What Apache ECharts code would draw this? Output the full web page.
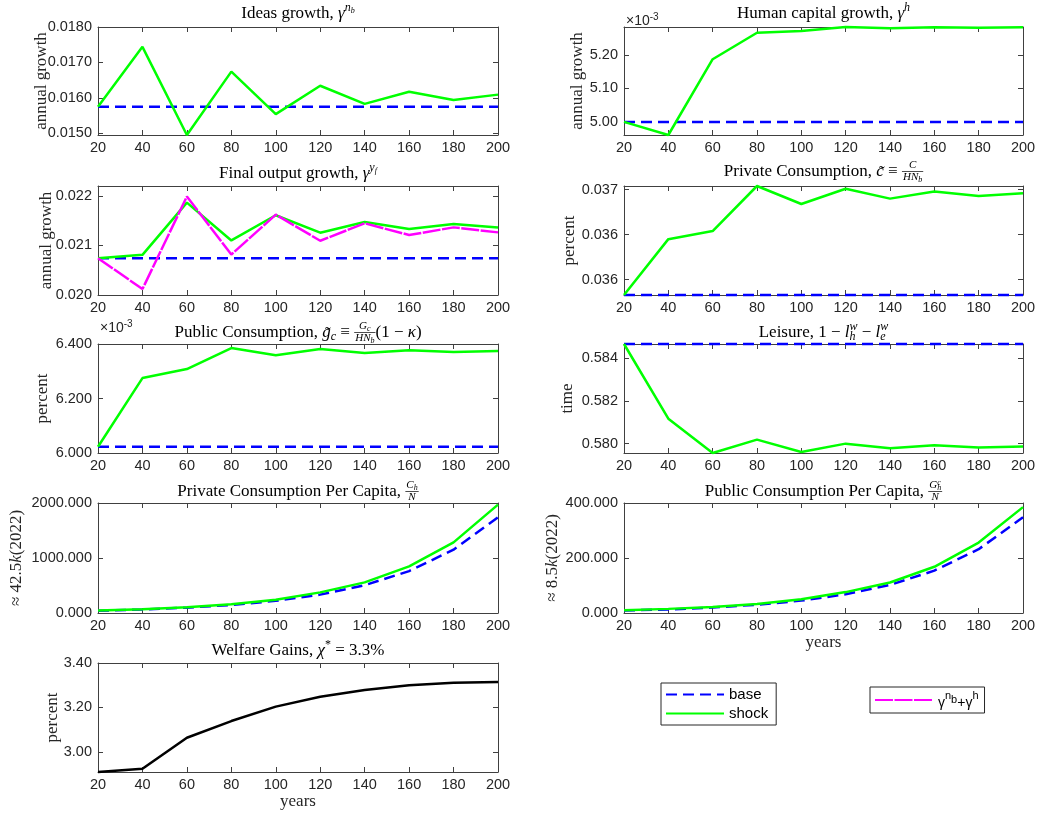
<!DOCTYPE html>
<html>
<head>
<meta charset="utf-8">
<script src="https://cdn.jsdelivr.net/npm/echarts@6/dist/echarts.min.js"></script>
<style>
  html, body { margin: 0; background: #fff; }
  #main { width: 1045px; height: 813px; }
</style>
</head>
<body>
<div id="main"></div>
<script>
// x axis: years
const years = [20, 40, 60, 80, 100, 120, 140, 160, 180, 200];

// Ideas growth
const ideasBase  = [0.01575, 0.01575, 0.01575, 0.01575, 0.01575, 0.01575, 0.01575, 0.01575, 0.01575, 0.01575];
const ideasShock = [0.01575, 0.01744, 0.01495, 0.01674, 0.01554, 0.01634, 0.01583, 0.01617, 0.01594, 0.01609];
const ideasTicks = [0.015, 0.016, 0.017, 0.018];

// Human capital growth (units of 1e-3)
const humanBase  = [5.000, 5.000, 5.000, 5.000, 5.000, 5.000, 5.000, 5.000, 5.000, 5.000];
const humanShock = [5.000, 4.961, 5.187, 5.266, 5.271, 5.283, 5.279, 5.282, 5.281, 5.282];
const humanTicks = [5.0, 5.1, 5.2];

// Final output growth
const outputBase  = [0.020743, 0.020743, 0.020743, 0.020743, 0.020743, 0.020743, 0.020743, 0.020743, 0.020743, 0.020743];
const outputShock = [0.020743, 0.020810, 0.021864, 0.021101, 0.021609, 0.021258, 0.021473, 0.021330, 0.021434, 0.021361];
const outputSum   = [0.020743, 0.020120, 0.021986, 0.020817, 0.021622, 0.021095, 0.021447, 0.021211, 0.021365, 0.021264];
const outputTicks = [0.020, 0.021, 0.022];

// Private consumption
const privBase  = [0.03583, 0.03583, 0.03583, 0.03583, 0.03583, 0.03583, 0.03583, 0.03583, 0.03583, 0.03583];
const privShock = [0.03583, 0.03645, 0.03654, 0.03704, 0.03684, 0.03701, 0.03690, 0.03698, 0.03693, 0.03696];
const privTicks = [0.0360, 0.0365, 0.0370];

// Public consumption (units of 1e-3)
const pubBase  = [6.023, 6.023, 6.023, 6.023, 6.023, 6.023, 6.023, 6.023, 6.023, 6.023];
const pubShock = [6.023, 6.275, 6.308, 6.385, 6.359, 6.382, 6.367, 6.377, 6.371, 6.374];
const pubTicks = [6.0, 6.2, 6.4];

// Leisure
const leisureBase  = [0.58468, 0.58468, 0.58468, 0.58468, 0.58468, 0.58468, 0.58468, 0.58468, 0.58468, 0.58468];
const leisureShock = [0.58468, 0.58117, 0.57956, 0.58019, 0.57961, 0.58000, 0.57978, 0.57992, 0.57982, 0.57987];
const leisureTicks = [0.580, 0.582, 0.584];

// Private consumption per capita
const privPcBase  = [42, 64, 97, 146, 221, 334, 505, 762, 1151, 1739];
const privPcShock = [47, 70, 106, 160, 242, 375, 557, 847, 1284, 1970];
const privPcTicks = [0, 1000, 2000];

// Public consumption per capita
const pubPcBase  = [9, 13, 20, 30, 45, 68, 102, 154, 232, 348];
const pubPcShock = [10, 15, 22, 33, 50, 76, 111, 168, 256, 385];
const pubPcTicks = [0, 200, 400];

// Welfare gains
const welfare = [2.910, 2.925, 3.064, 3.139, 3.204, 3.248, 3.279, 3.300, 3.311, 3.315];
const welfareTicks = [3.0, 3.2, 3.4];

const SERIF = '"Liberation Serif", "DejaVu Serif", serif';
const SANS = '"Liberation Sans", Arial, sans-serif';
const AXIS_COLOR = '#404040';
const LABEL_COLOR = '#262626';

// text pieces for the math-ish titles
const mctx = document.createElement('canvas').getContext('2d');
const fontOf = tk => (tk.it ? 'italic ' : '') + tk.size + 'px ' + SERIF;
const tw = tk => { mctx.font = fontOf(tk); return mctx.measureText(tk.t).width; };
const R = t => ({ t, size: 17, it: false, dy: 0 });
const I = t => ({ t, size: 17, it: true, dy: 0 });
const Sup = (t, it = true) => ({ t, size: 12, it, dy: -6 });
const SupSub = t => ({ t, size: 8, it: true, dy: -3 });
const Sub = t => ({ t, size: 12, it: true, dy: 4 });
const FI = t => ({ t, size: 11, it: true, dy: 0 });
const FS = t => ({ t, size: 8, it: true, dy: 2 });
const FSup = t => ({ t, size: 8, it: true, dy: -3 });
const Stack = (a, b) => ({ stack: [a, b] });
const Frac = (num, den) => ({ frac: [num, den] });

function rowWidth(toks) {
  return toks.reduce((s, t) => s + (t.stack ? Math.max(tw(t.stack[0]), tw(t.stack[1])) : tw(t)), 0);
}
function pieceWidth(p) {
  if (p.frac) return Math.max(rowWidth(p.frac[0]), rowWidth(p.frac[1])) + 2;
  if (p.stack) return Math.max(tw(p.stack[0]), tw(p.stack[1]));
  return tw(p);
}
function textEl(tk, x, y) {
  return {
    type: 'text', x: x, y: y + tk.dy, silent: true,
    style: { text: tk.t, font: fontOf(tk), fill: '#000', textAlign: 'left', textVerticalAlign: 'middle', verticalAlign: 'middle' }
  };
}
function drawRow(toks, x, y, out) {
  toks.forEach(tk => {
    if (tk.stack) {
      out.push(textEl(tk.stack[0], x, y));
      out.push(textEl(tk.stack[1], x, y));
    } else {
      out.push(textEl(tk, x, y));
    }
    x += tk.stack ? Math.max(tw(tk.stack[0]), tw(tk.stack[1])) : tw(tk);
  });
}
function layoutTitle(pieces, cx, cy) {
  const out = [];
  const total = pieces.reduce((s, p) => s + pieceWidth(p), 0);
  let x = cx - total / 2;
  pieces.forEach(p => {
    const w = pieceWidth(p);
    if (p.frac) {
      const nw = rowWidth(p.frac[0]), dw = rowWidth(p.frac[1]);
      drawRow(p.frac[0], x + (w - nw) / 2, cy - 6.5, out);
      drawRow(p.frac[1], x + (w - dw) / 2, cy + 5.5, out);
      out.push({ type: 'line', silent: true, shape: { x1: x, y1: cy - 0.5, x2: x + w, y2: cy - 0.5 }, style: { stroke: '#000', lineWidth: 0.7 } });
    } else if (p.stack) {
      out.push(textEl(p.stack[0], x, cy));
      out.push(textEl(p.stack[1], x, cy));
    } else {
      out.push(textEl(p, x, cy));
    }
    x += w;
  });
  return out;
}

const colLeft = [98, 624], colWidth = [400, 399];
const rowTop = [27, 186, 344, 503, 663], rowHeight = [108, 109, 109, 110, 109];

const panels = [
  { row: 0, col: 0, titleY: 14, title: [R('Ideas growth, '), I('γ'), Sup('n'), SupSub('b')],
    yName: '{r|annual growth}', yNameX: 42, min: 0.01495, max: 0.0180, ticks: ideasTicks, digits: 4,
    lines: [['base', ideasBase], ['shock', ideasShock]] },
  { row: 0, col: 1, titleY: 14, title: [R('Human capital growth, '), I('γ'), Sup('h')],
    yName: '{r|annual growth}', yNameX: 578, min: 4.961, max: 5.283, ticks: humanTicks, digits: 2, exp: [626, 20],
    lines: [['base', humanBase], ['shock', humanShock]] },
  { row: 1, col: 0, titleY: 174, title: [R('Final output growth, '), I('γ'), Sup('y'), SupSub('f')],
    yName: '{r|annual growth}', yNameX: 47, min: 0.0200, max: 0.0222, ticks: outputTicks, digits: 3,
    lines: [['base', outputBase], ['shock', outputShock], ['gsum', outputSum]] },
  { row: 1, col: 1, titleY: 172, title: [R('Private Consumption, '), I('c̃'), R(' ≡ '), Frac([FI('C')], [FI('HN'), FS('b')])],
    yName: '{r|percent}', yNameX: 570, min: 0.03583, max: 0.03704, ticks: privTicks, digits: 3,
    lines: [['base', privBase], ['shock', privShock]] },
  { row: 2, col: 0, titleY: 333, title: [R('Public Consumption, '), I('g̃'), Sub('c'), R(' ≡ '), Frac([FI('G'), FS('c')], [FI('HN'), FS('b')]), R('(1 − '), I('κ'), R(')')],
    yName: '{r|percent}', yNameX: 43, min: 6.0, max: 6.4, ticks: pubTicks, digits: 3, exp: [100, 327],
    lines: [['base', pubBase], ['shock', pubShock]] },
  { row: 2, col: 1, titleY: 333, title: [R('Leisure, 1 − '), I('l'), Stack(Sup('w'), Sub('h')), R(' − '), I('l'), Stack(Sup('w'), Sub('e'))],
    yName: '{r|time}', yNameX: 568, min: 0.57956, max: 0.58468, ticks: leisureTicks, digits: 3,
    lines: [['base', leisureBase], ['shock', leisureShock]] },
  { row: 3, col: 0, titleY: 492, title: [R('Private Consumption Per Capita, '), Frac([FI('C'), FS('h')], [FI('N')])],
    yName: '{r|≈ 42.5}{i|k}{r|(2022)}', yNameX: 17, min: 0, max: 2000, ticks: privPcTicks, digits: 3,
    lines: [['base', privPcBase], ['shock', privPcShock]] },
  { row: 3, col: 1, titleY: 492, title: [R('Public Consumption Per Capita, '), Frac([FI('G'), Stack(FSup('c'), FS('h'))], [FI('N')])],
    yName: '{r|≈ 8.5}{i|k}{r|(2022)}', yNameX: 553, min: 0, max: 400, ticks: pubPcTicks, digits: 3, xName: 643,
    lines: [['base', pubPcBase], ['shock', pubPcShock]] },
  { row: 4, col: 0, titleY: 651, title: [R('Welfare Gains, '), I('χ'), Sup('*', false), R(' = 3.3%')],
    yName: '{r|percent}', yNameX: 53, min: 2.91, max: 3.40, ticks: welfareTicks, digits: 2, xName: 802,
    lines: [['welfare', welfare]] }
];

const lineStyles = {
  base: { color: '#0000ff', width: 2.5, type: [11, 6] },
  shock: { color: '#00ff00', width: 2.5, type: 'solid' },
  gsum: { color: '#ff00ff', width: 2.5, type: [18, 1.5] },
  welfare: { color: '#000000', width: 2.5, type: 'solid' }
};

const grid = [], xAxis = [], yAxis = [], series = [], graphics = [];
const axisLine = { show: true, onZero: false, lineStyle: { color: AXIS_COLOR, width: 1 } };
const tick = { show: true, inside: true, length: 5, lineStyle: { color: AXIS_COLOR, width: 1 } };

panels.forEach((p, i) => {
  const left = colLeft[p.col], top = rowTop[p.row], width = colWidth[p.col], height = rowHeight[p.row];
  grid.push({ left, top, width, height, containLabel: false });
  const xBase = { gridIndex: i, type: 'value', min: 20, max: 200, interval: 20, axisLine, splitLine: { show: false } };
  xAxis.push(Object.assign({}, xBase, {
    position: 'bottom', axisTick: tick,
    axisLabel: { margin: 5, fontSize: 14.5, fontFamily: SANS, color: LABEL_COLOR }
  }));
  xAxis.push(Object.assign({}, xBase, { position: 'top', axisTick: tick, axisLabel: { show: false } }));
  const yBase = { gridIndex: i, type: 'value', min: p.min, max: p.max, axisLine, splitLine: { show: false } };
  yAxis.push(Object.assign({}, yBase, {
    position: 'left',
    axisTick: Object.assign({}, tick, { customValues: p.ticks }),
    axisLabel: { customValues: p.ticks, margin: 6, fontSize: 14.5, fontFamily: SANS, color: LABEL_COLOR,
      formatter: v => Number(v).toFixed(p.digits) }
  }));
  yAxis.push(Object.assign({}, yBase, {
    position: 'right',
    axisTick: Object.assign({}, tick, { customValues: p.ticks }),
    axisLabel: { show: false }
  }));
  p.lines.forEach(([name, arr]) => {
    const ls = lineStyles[name];
    series.push({
      name, type: 'line', xAxisIndex: 2 * i, yAxisIndex: 2 * i,
      data: years.map((x, k) => [x, arr[k]]),
      symbol: 'none', clip: false, silent: true,
      lineStyle: ls, itemStyle: { color: ls.color }
    });
  });

  graphics.push(...layoutTitle(p.title, left + width / 2, p.titleY));
  graphics.push({
    type: 'text', x: p.yNameX, y: top + height / 2, rotation: Math.PI / 2, silent: true,
    style: {
      text: p.yName, textAlign: 'center', textVerticalAlign: 'middle', verticalAlign: 'middle', fill: LABEL_COLOR,
      rich: { r: { fontFamily: SERIF, fontSize: 17, fill: LABEL_COLOR }, i: { fontFamily: SERIF, fontSize: 17, fontStyle: 'italic', fill: LABEL_COLOR } }
    }
  });
  if (p.exp) {
    graphics.push({
      type: 'text', x: p.exp[0], y: p.exp[1], silent: true,
      style: {
        text: '{a|×10}{b|-3}', textAlign: 'left', textVerticalAlign: 'middle', verticalAlign: 'middle',
        rich: { a: { fontFamily: SANS, fontSize: 14, fill: LABEL_COLOR, verticalAlign: 'bottom', lineHeight: 16 },
                b: { fontFamily: SANS, fontSize: 10, fill: LABEL_COLOR, verticalAlign: 'top', lineHeight: 16 } }
      }
    });
  }
  if (p.xName) {
    graphics.push({
      type: 'text', x: left + width / 2, y: p.xName, silent: true,
      style: { text: 'years', font: '17px ' + SERIF, fill: LABEL_COLOR, textAlign: 'center', textVerticalAlign: 'middle', verticalAlign: 'middle' }
    });
  }
});

const legendBase = {
  orient: 'vertical', itemWidth: 58, itemHeight: 14, itemGap: 4,
  borderColor: '#262626', borderWidth: 1, borderRadius: 0, backgroundColor: '#fff',
  selectedMode: false,
  itemStyle: { opacity: 0 }
};

const chart = echarts.init(document.getElementById('main'), null, { renderer: 'canvas' });
chart.setOption({
  animation: false,
  backgroundColor: '#fff',
  grid, xAxis, yAxis, series,
  legend: [
    Object.assign({}, legendBase, {
      data: ['base', 'shock'], left: 661, top: 683, padding: [4, 8, 4, 4],
      textStyle: { fontFamily: SANS, fontSize: 15, color: '#000' }
    }),
    Object.assign({}, legendBase, {
      data: ['gsum'], left: 870, top: 687, padding: [3, 6, 3, 4],
      formatter: () => '{g|γ}{s|n}{b|b}{p|+}{g|γ}{s|h}',
      textStyle: {
        fontFamily: SANS, fontSize: 14, color: '#000',
        rich: {
          g: { fontSize: 14, fontFamily: SANS, verticalAlign: 'bottom', lineHeight: 20 },
          p: { fontSize: 14, fontFamily: SANS, verticalAlign: 'bottom', lineHeight: 20 },
          s: { fontSize: 11, fontFamily: SANS, verticalAlign: 'top', lineHeight: 20 },
          b: { fontSize: 11, fontFamily: SANS, verticalAlign: 'middle', lineHeight: 20 }
        }
      }
    })
  ],
  graphic: { elements: graphics }
});
</script>
</body>
</html>
